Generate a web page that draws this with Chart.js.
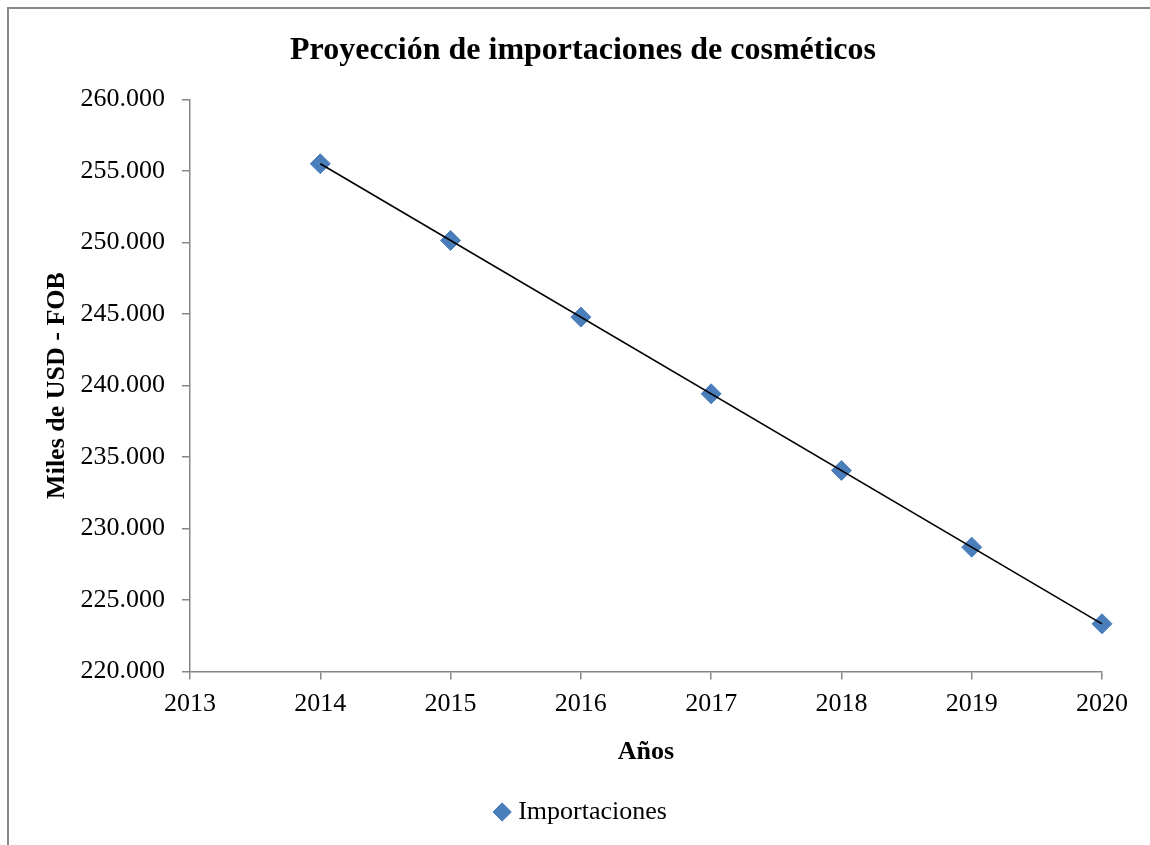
<!DOCTYPE html>
<html>
<head>
<meta charset="utf-8">
<script src="https://cdn.jsdelivr.net/npm/chart.js@4.4.1/dist/chart.umd.min.js"></script>
<style>
  html, body { margin: 0; padding: 0; background: #fff; overflow: hidden; }
  #wrap { width: 1150px; height: 845px; position: relative; }
</style>
</head>
<body>
<div id="wrap"><canvas id="myChart" width="1150" height="845"></canvas></div>
<script>
// data (miles de USD - FOB)
const years = [2014, 2015, 2016, 2017, 2018, 2019, 2020]
const importaciones = [255500, 250140, 244780, 239420, 234060, 228700, 223340]
const yMin = 220000
const yMax = 260000
const yStep = 5000
const xMin = 2013
const xMax = 2020

const serif = "'Liberation Serif', 'Times New Roman', serif"

// linear trend line from the points (least squares)
function trend(xs, ys) {
    const n = xs.length
    const mx = xs.reduce((a, b) => a + b, 0) / n
    const my = ys.reduce((a, b) => a + b, 0) / n
    let num = 0, den = 0
    for (let i = 0; i < n; i++) {
        num += (xs[i] - mx) * (ys[i] - my)
        den += (xs[i] - mx) * (xs[i] - mx)
    }
    const m = num / den
    const b = my - m * mx
    return [xs[0], xs[n - 1]].map(x => ({ x: x, y: m * x + b }))
}

const points = years.map((y, i) => ({ x: y, y: importaciones[i] }))

// grey frame round the chart, like the office chart border
const framePlugin = {
    id: 'frame',
    beforeDraw(chart) {
        const ctx = chart.ctx
        ctx.save()
        ctx.strokeStyle = '#888888'
        ctx.lineWidth = 2
        ctx.strokeRect(8, 8, 2000, 2000)
        ctx.restore()
    }
}

const ctx = document.getElementById('myChart').getContext('2d')
const myChart = new Chart(ctx, {
    type: 'scatter',
    data: {
        datasets: [{
            label: 'Importaciones',
            data: points,
            pointStyle: 'rectRot',
            pointRadius: 10,
            pointHoverRadius: 10,
            backgroundColor: '#4A7EBB',
            borderColor: '#4A7EBB',
            borderWidth: 1,
            showLine: false,
            clip: false,
            order: 2
        }, {
            label: 'trend',
            data: trend(years, importaciones),
            showLine: true,
            pointRadius: 0,
            borderColor: '#000000',
            borderWidth: 1.6,
            clip: false,
            order: 1
        }]
    },
    options: {
        responsive: false,
        animation: false,
        layout: {
            padding: { left: 64, right: 48, top: 22, bottom: 10 }
        },
        plugins: {
            title: {
                display: true,
                text: 'Proyección de importaciones de cosméticos',
                color: '#000',
                font: { family: serif, size: 32, weight: 'bold' },
                padding: { top: 10, bottom: 29 }
            },
            legend: {
                position: 'bottom',
                labels: {
                    filter: item => item.text !== 'trend',
                    usePointStyle: true,
                    boxWidth: 6,
                    boxHeight: 13,
                    color: '#000',
                    font: { family: serif, size: 26 }
                }
            },
            tooltip: { enabled: false }
        },
        scales: {
            x: {
                type: 'linear',
                min: xMin,
                max: xMax,
                ticks: {
                    stepSize: 1,
                    color: '#000',
                    padding: 9,
                    font: { family: serif, size: 26 },
                    callback: v => String(v)
                },
                grid: {
                    drawOnChartArea: false,
                    tickLength: 8,
                    color: '#868686',
                    lineWidth: 1.5
                },
                border: { color: '#868686', width: 1.5 },
                title: {
                    display: true,
                    text: 'Años',
                    color: '#000',
                    font: { family: serif, size: 26, weight: 'bold' },
                    padding: { top: 8, bottom: 21 }
                }
            },
            y: {
                min: yMin,
                max: yMax,
                afterFit: scale => { scale.width = 126 },
                ticks: {
                    stepSize: yStep,
                    color: '#000',
                    padding: 17,
                    font: { family: serif, size: 26 },
                    callback: v => (v / 1000).toFixed(3)
                },
                grid: {
                    drawOnChartArea: false,
                    tickLength: 8,
                    color: '#868686',
                    lineWidth: 1.5
                },
                border: { color: '#868686', width: 1.5 },
                title: {
                    display: true,
                    text: 'Miles de USD - FOB',
                    color: '#000',
                    font: { family: serif, size: 26, weight: 'bold' },
                    padding: { top: -22, bottom: 0 }
                }
            }
        }
    },
    plugins: [framePlugin]
})
</script>
</body>
</html>
